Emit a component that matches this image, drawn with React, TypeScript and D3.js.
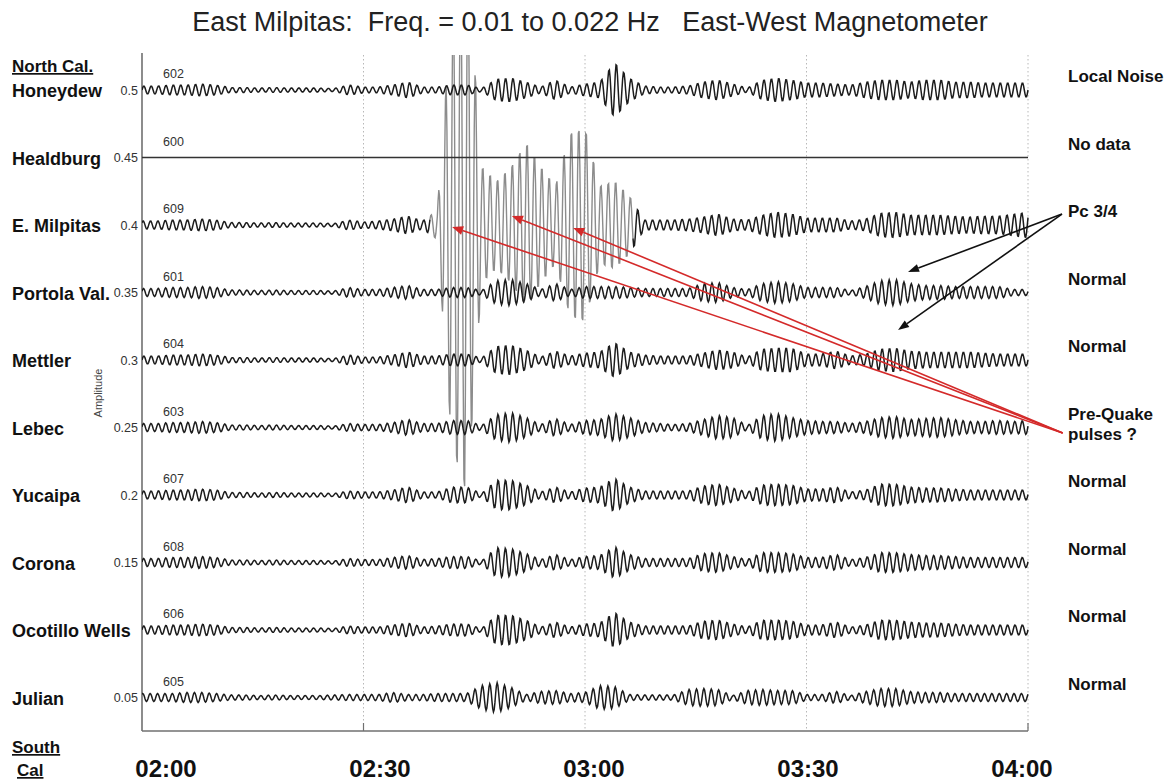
import React from 'react';
import * as d3 from 'd3';

// ---------- data ----------
const stations = ['Honeydew', 'Healdburg', 'E. Milpitas', 'Portola Val.', 'Mettler', 'Lebec', 'Yucaipa', 'Corona', 'Ocotillo Wells', 'Julian'];
const stationIds = ['602', '600', '609', '601', '604', '603', '607', '608', '606', '605'];
const offsets = [0.5, 0.45, 0.4, 0.35, 0.3, 0.25, 0.2, 0.15, 0.1, 0.05];
const offsetLabels = ['0.5', '0.45', '0.4', '0.35', '0.3', '0.25', '0.2', '0.15', '', '0.05'];
const statusLabels = [['Local Noise'], ['No data'], ['Pc 3/4'], ['Normal'], ['Normal'], ['Pre-Quake', 'pulses ?'], ['Normal'], ['Normal'], ['Normal'], ['Normal']];
const timeTicks = [0, 30, 60, 90, 120]; // minutes after 02:00
const timeLabels = ['02:00', '02:30', '03:00', '03:30', '04:00'];

// envelope (half amplitude) sampled every 2 minutes from 02:00 to 04:00, unit = 0.00074 amplitude
const envHoneydew = [4, 4, 5, 5, 6, 5, 2.5, 2.5, 2, 2.5, 2, 2, 2, 1.5, 5, 3, 3, 5, 8, 3, 3, 5, 5, 1.5, 11, 12, 8, 3, 10, 3, 6, 8, 28, 12, 4, 3, 3, 4, 8, 10, 6, 2, 10, 12, 10, 7, 7, 6, 5, 8, 10, 10, 8, 10, 10, 8, 8, 7, 7, 7, 7];
const envHealdburg: number[] | null = null; // no data: flat line
const envMilpitas = [4, 4, 5, 5, 6, 5, 2.5, 2.5, 2, 2.5, 2, 2, 2, 1.5, 5, 3, 4, 6, 9, 4, 15, 230, 280, 60, 45, 60, 85, 60, 40, 95, 100, 40, 45, 30, 5, 5, 5, 6, 8, 11, 6, 5, 10, 13, 11, 7, 7, 7, 4, 6, 12, 13, 10, 10, 10, 9, 8, 9, 9, 11, 13];
const envPortola = [4, 4, 5, 5, 6, 5, 2.5, 2.5, 2, 2.5, 2, 2, 2, 1.5, 5, 3, 3, 5, 7, 3, 3, 5, 5, 2, 12, 13, 9, 3, 9, 3, 6, 6, 6, 5, 4, 4, 4, 4, 9, 10, 5, 3, 9, 11, 9, 5, 5, 5, 2, 6, 12, 13, 9, 7, 7, 6, 6, 6, 6, 3, 3];
const envMettler = [4, 4, 5, 5, 6, 5, 2.5, 2.5, 2, 2.5, 2, 2, 2, 1.5, 5, 3, 3, 5, 8, 4, 4, 6, 6, 2, 14, 15, 10, 3, 9, 4, 7, 8, 18, 8, 5, 4, 4, 4, 7, 10, 8, 3, 11, 12, 12, 6, 6, 9, 4, 6, 11, 12, 9, 8, 8, 8, 8, 7, 6, 6, 6];
const envLebec = [4, 4, 5, 5, 6, 5, 2.5, 2.5, 2, 2.5, 2, 2, 2, 1.5, 4, 3, 3, 5, 8, 4, 4, 7, 7, 2, 13, 15, 10, 3, 9, 3, 7, 8, 14, 10, 5, 4, 3, 4, 8, 12, 10, 2, 12, 14, 10, 7, 6, 6, 4, 6, 10, 11, 8, 9, 10, 8, 6, 6, 7, 6, 7];
const envYucaipa = [4, 4, 5, 5, 6, 5, 2.5, 2.5, 2, 2.5, 2, 2, 2, 1.5, 4, 3, 3, 5, 8, 3, 3, 8, 8, 1.5, 15, 15, 10, 3, 8, 3, 7, 8, 17, 8, 4, 4, 4, 4, 9, 11, 7, 3, 10, 11, 10, 6, 6, 8, 3, 5, 11, 11, 8, 7, 7, 6, 5, 5, 5, 5, 5];
const envCorona = [4, 4, 5, 5, 6, 5, 2.5, 2.5, 2, 2.5, 2, 2, 2, 1.5, 4, 3, 3, 5, 7, 3, 4, 6, 6, 1.5, 15, 14, 9, 3, 8, 3, 6, 7, 16, 8, 4, 4, 4, 4, 9, 10, 6, 3, 10, 10, 9, 5, 5, 8, 3, 5, 10, 10, 8, 7, 7, 6, 5, 5, 5, 5, 5];
const envOcotillo = [4, 4, 5, 5, 6, 5, 2.5, 2.5, 2, 2.5, 2, 2, 2, 1.5, 4, 3, 3, 5, 7, 3, 4, 6, 6, 1.5, 15, 15, 10, 3, 8, 3, 6, 7, 18, 8, 4, 4, 4, 4, 9, 10, 6, 3, 10, 10, 9, 5, 5, 8, 3, 5, 10, 10, 8, 7, 7, 6, 5, 5, 5, 5, 5];
const envJulian = [4, 4, 4, 5, 5, 4, 2.5, 2.5, 2, 2.5, 2, 2, 2, 2.5, 3, 3, 3, 5, 3, 3, 4, 4, 4, 12, 15, 10, 3, 6, 7, 4, 5, 12, 11, 3, 2.5, 2.5, 2.5, 8, 9, 8, 2, 7, 8, 7, 7, 3, 3, 6, 2, 6, 9, 9, 6, 5, 5, 4, 4, 4, 4, 4, 4];
const envelopes = [envHoneydew, envHealdburg, envMilpitas, envPortola, envMettler, envLebec, envYucaipa, envCorona, envOcotillo, envJulian];
const phases = [0, 0, 0.6, 0.3, 0, 0.2, 0.1, 0.15, 0.05, 0.9];

// gray (overlaid) section of the E. Milpitas trace, minutes
const graySpan = [39, 66.5];

// annotations: [minute, amplitude]
const redSource = [124.7, 0.2459];
const redTargets = [[42.0, 0.3985], [50.1, 0.4067], [58.4, 0.3978]];
const blackSource = [124.6, 0.4081];
const blackTargets = [[103.75, 0.3652], [102.4, 0.3222]];

// ---------- rendering ----------
const ENV_UNIT = 0.00074;
const PERIOD = 1.0; // minutes
const STEP = 0.1;
const FONT = '"Liberation Sans", Arial, Helvetica, sans-serif';

const x = d3.scaleLinear().domain([0, 120]).range([142, 1028]);
const y = d3.scaleLinear().domain([0.05, 0.5]).range([697.5, 90]);
const xLabel = d3.scaleLinear().domain([0, 120]).range([166, 1022]);
const TOP = 55;
const BOTTOM = 731;

function envAt(env: number[], t: number) {
  const f = t / 2;
  const i = Math.max(0, Math.min(env.length - 2, Math.floor(f)));
  const fr = Math.min(1, Math.max(0, f - i));
  return env[i] * (1 - fr) + env[i + 1] * fr;
}

function tracePath(env: number[] | null, base: number, phase: number, t0: number, t1: number) {
  const pts: [number, number][] = [];
  for (let t = t0; t <= t1 + 1e-9; t += STEP) {
    const a = env ? envAt(env, t) * ENV_UNIT : 0;
    pts.push([x(t), y(base + a * Math.sin((2 * Math.PI * t) / PERIOD + phase))]);
  }
  return d3.line()(pts) || '';
}

export default function App() {
  const traces: React.ReactNode[] = [];
  const grayTraces: React.ReactNode[] = [];
  envelopes.forEach((env, k) => {
    if (k === 2) {
      traces.push(<path key={'a' + k} d={tracePath(env, offsets[k], phases[k], 0, graySpan[0])} fill="none" stroke="#1c1c1c" strokeWidth={1.5} />);
      traces.push(<path key={'b' + k} d={tracePath(env, offsets[k], phases[k], graySpan[1], 120)} fill="none" stroke="#1c1c1c" strokeWidth={1.5} />);
      grayTraces.push(<path key={'g' + k} d={tracePath(env, offsets[k], phases[k], graySpan[0], graySpan[1])} fill="none" stroke="#8c8c8c" strokeWidth={1.4} />);
    } else {
      traces.push(<path key={'t' + k} d={tracePath(env, offsets[k], phases[k], 0, 120)} fill="none" stroke={env ? '#1c1c1c' : '#333'} strokeWidth={env ? 1.5 : 1.6} />);
    }
  });

  const arrow = (sx: number, sy: number, tx: number, ty: number, color: string, key: string, len = 10, wid = 4) => {
    const dx = tx - sx, dy = ty - sy;
    const L = Math.hypot(dx, dy);
    const ux = dx / L, uy = dy / L;
    const bx = tx - ux * len, by = ty - uy * len;
    const px = -uy * wid, py = ux * wid;
    return (
      <g key={key}>
        <line x1={sx} y1={sy} x2={bx} y2={by} stroke={color} strokeWidth={1.6} />
        <polygon points={`${tx},${ty} ${bx + px},${by + py} ${bx - px},${by - py}`} fill={color} />
      </g>
    );
  };

  return (
    <svg width={1175} height={782} style={{ position: 'absolute', left: 0, top: 0, background: '#fff' }} fontFamily={FONT}>
      <defs>
        <clipPath id="plotclip">
          <rect x={x(0)} y={TOP} width={x(120) - x(0) + 4} height={BOTTOM - TOP} />
        </clipPath>
      </defs>
      <rect width={1175} height={782} fill="#fff" />

      {/* title */}
      <text x={590} y={31} textAnchor="middle" fontSize={27} fill="#222" style={{ whiteSpace: 'pre' }}>
        {'East Milpitas:  Freq. = 0.01 to 0.022 Hz   East-West Magnetometer'}
      </text>

      {/* grid lines */}
      {timeTicks.slice(1).map((t) => (
        <line key={'g' + t} x1={x(t)} x2={x(t)} y1={TOP} y2={BOTTOM} stroke="#b8b8b8" strokeWidth={1} strokeDasharray="1.5,2.5" />
      ))}
      {/* axes */}
      <line x1={x(0)} x2={x(0)} y1={TOP - 2} y2={BOTTOM} stroke="#707070" strokeWidth={1.6} />
      <line x1={x(0)} x2={x(120)} y1={BOTTOM} y2={BOTTOM} stroke="#707070" strokeWidth={1.6} />
      <line x1={x(30)} x2={x(30)} y1={BOTTOM - 8} y2={BOTTOM} stroke="#707070" strokeWidth={1.2} />
      <line x1={x(120)} x2={x(120)} y1={BOTTOM - 8} y2={BOTTOM} stroke="#707070" strokeWidth={1.2} />

      {/* traces */}
      <g clipPath="url(#plotclip)">
        {grayTraces}
        {traces}
      </g>

      {/* station ids and amplitude tick labels */}
      {stations.map((s, k) => (
        <g key={'s' + k}>
          <text x={163} y={y(offsets[k]) - 12} fontSize={12.5} fill="#333">{stationIds[k]}</text>
          {offsetLabels[k] && (
            <text x={138} y={y(offsets[k]) + 4.5} fontSize={12.5} fill="#333" textAnchor="end">{offsetLabels[k]}</text>
          )}
        </g>
      ))}

      {/* station names */}
      <text x={12} y={72} fontSize={17} fontWeight="bold" fill="#111" style={{ textDecoration: 'underline' }}>North Cal.</text>
      {stations.map((s, k) => (
        <text key={'n' + k} x={12} y={y(offsets[k]) + 7} fontSize={18} fontWeight="bold" fill="#111">{s}</text>
      ))}
      <text x={12} y={753} fontSize={17} fontWeight="bold" fill="#111" style={{ textDecoration: 'underline' }}>South</text>
      <text x={17} y={776} fontSize={17} fontWeight="bold" fill="#111" style={{ textDecoration: 'underline' }}>Cal</text>

      {/* amplitude axis title */}
      <text transform={`translate(102,393) rotate(-90)`} textAnchor="middle" fontSize={11} fill="#444">Amplitude</text>

      {/* time labels */}
      {timeTicks.map((t, i) => (
        <text key={'tl' + t} x={xLabel(t)} y={777} textAnchor="middle" fontSize={24} fontWeight="bold" fill="#111">{timeLabels[i]}</text>
      ))}

      {/* status labels */}
      {statusLabels.map((lines, k) => (
        <text key={'st' + k} x={1068} y={y(offsets[k]) - 8} fontSize={17} fontWeight="bold" fill="#111">
          {lines.map((l, j) => (
            <tspan key={j} x={1068} dy={j === 0 ? 0 : 20}>{l}</tspan>
          ))}
        </text>
      ))}

      {/* annotation arrows */}
      {redTargets.map((tg, i) => arrow(x(redSource[0]), y(redSource[1]), x(tg[0]), y(tg[1]), '#d42a2a', 'r' + i, 11, 4.5))}
      {blackTargets.map((tg, i) => arrow(x(blackSource[0]), y(blackSource[1]), x(tg[0]), y(tg[1]), '#111', 'k' + i, 11, 4))}
    </svg>
  );
}
